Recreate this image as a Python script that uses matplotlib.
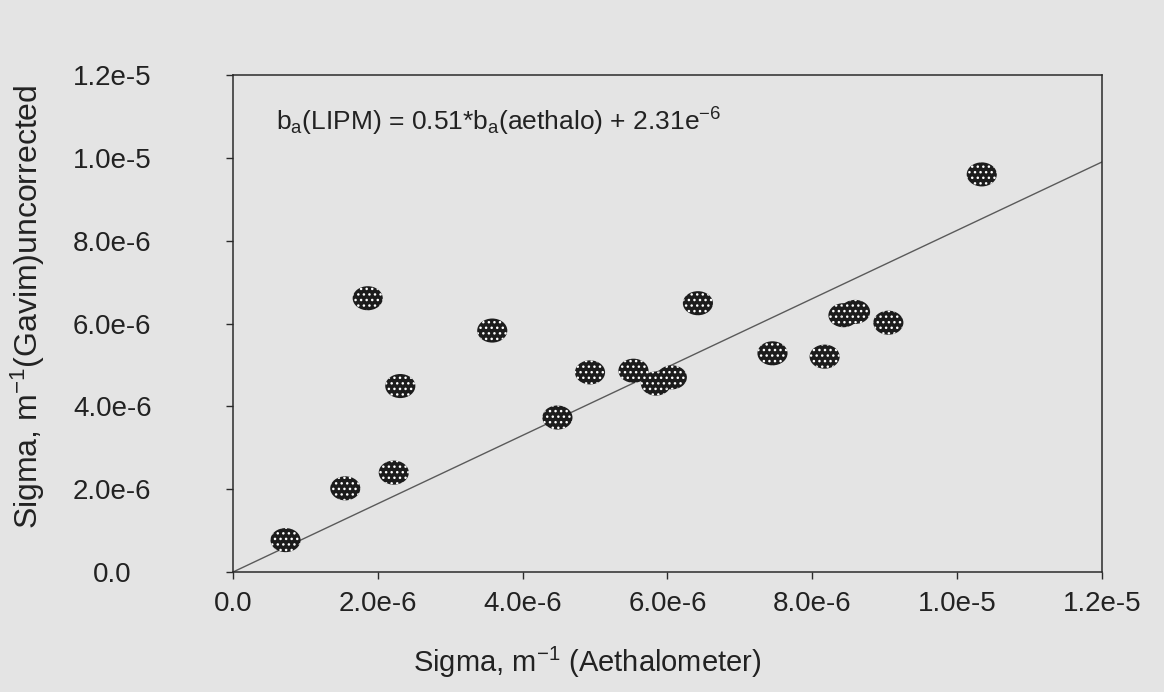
import numpy as np
import matplotlib
matplotlib.use('Agg')
from matplotlib import pyplot as plt
from matplotlib.path import Path

plt.rcParams['font.family'] = ['Liberation Sans', 'DejaVu Sans']
plt.rcParams['mathtext.fontset'] = 'custom'
plt.rcParams['mathtext.rm'] = 'Liberation Sans'
plt.rcParams['mathtext.it'] = 'Liberation Sans:italic'
plt.rcParams['hatch.color'] = 'white'
plt.rcParams['hatch.linewidth'] = 1.0

# Absorption coefficients, m^-1
aethalometer = [0.725e-6, 1.55e-6, 1.86e-6, 2.22e-6, 2.31e-6, 3.58e-6, 4.48e-6,
                4.93e-6, 5.53e-6, 5.84e-6, 6.06e-6, 6.42e-6, 7.45e-6, 8.17e-6,
                8.43e-6, 8.59e-6, 9.05e-6, 10.34e-6]
gavim = [0.77e-6, 2.02e-6, 6.61e-6, 2.40e-6, 4.49e-6, 5.83e-6, 3.73e-6,
         4.82e-6, 4.86e-6, 4.55e-6, 4.70e-6, 6.49e-6, 5.28e-6, 5.20e-6,
         6.20e-6, 6.28e-6, 6.02e-6, 9.60e-6]

# fitted line as drawn on the plot
fit_x = [0.0, 1.2e-5]
fit_y = [0.0, 9.9e-6]

tick_vals = [0.0, 2.0e-6, 4.0e-6, 6.0e-6, 8.0e-6, 1.0e-5, 1.2e-5]
tick_labels = ['0.0', '2.0e-6', '4.0e-6', '6.0e-6', '8.0e-6', '1.0e-5', '1.2e-5']

bg = '#e4e4e4'
fig = plt.figure(figsize=(11.64, 6.92), dpi=100, facecolor=bg)
ax = fig.add_axes([0.2002, 0.1734, 0.7465, 0.7182], facecolor=bg)

# slightly flattened ellipse marker
circ = Path.unit_circle()
ellipse = Path(circ.vertices * np.array([1.0, 0.8]), circ.codes)

ax.plot(fit_x, fit_y, color='#5a5a5a', lw=1.0, zorder=2)
ax.scatter(aethalometer, gavim, s=470, marker=ellipse, facecolor='#1c1c1c',
           edgecolor='white', linewidths=0, hatch='...', zorder=3)

ax.set_xlim(0, 1.2e-5)
ax.set_ylim(0, 1.2e-5)
ax.set_xticks(tick_vals)
ax.set_xticklabels(tick_labels)
ax.set_yticks(tick_vals)
ax.set_yticklabels(tick_labels, ha='center')

for side in ['left', 'right', 'top', 'bottom']:
    ax.spines[side].set_color('#2a2a2a')
    ax.spines[side].set_linewidth(1.1)

ax.tick_params(axis='both', direction='out', length=5, width=1.0,
               color='#2a2a2a', labelsize=20, labelcolor='#222222')
ax.tick_params(axis='x', pad=9)
ax.tick_params(axis='y', pad=82)

ax.set_xlabel('Sigma, m$^{-1}$ (Aethalometer)', fontsize=21, color='#222222')
ax.xaxis.set_label_coords(0.408, -0.147)
ax.set_ylabel('Sigma, m$^{-1}$(Gavim)uncorrected', fontsize=23, color='#222222')
ax.yaxis.set_label_coords(-0.214, 0.533)

ax.text(0.05, 0.905, r'b$_\mathregular{a}$(LIPM) = 0.51*b$_\mathregular{a}$(aethalo) + 2.31e$^\mathregular{-6}$',
        transform=ax.transAxes, fontsize=19, color='#222222', va='center')

fig.savefig('out.png', dpi=100, facecolor=bg)
